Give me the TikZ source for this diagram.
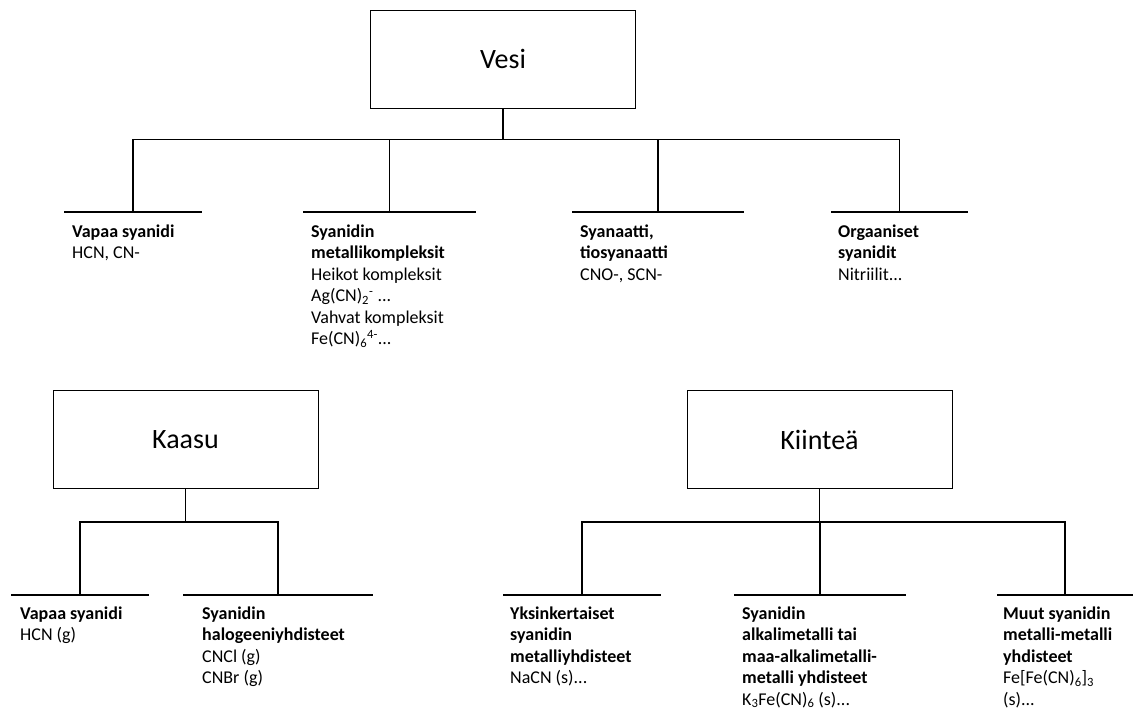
\documentclass[tikz,border=0pt]{standalone}
\usepackage{fontspec}
\setmainfont{Carlito}
\usepackage{tikz}

\tikzset{
  box/.style={draw, line width=1pt, minimum width=265pt, minimum height=98pt,
    inner sep=0pt, font=\fontsize{28}{34}\selectfont},
  txt/.style={anchor=north west, align=left, inner sep=0pt,
    font=\fontsize{18}{21.5}\selectfont},
  bar/.style={line width=1.6pt},
}

\begin{document}
\begin{tikzpicture}[%
      x=1pt, y=-1pt,
      ]
      \useasboundingbox (0,0) rectangle (1133,716);

      \node [box] (vesi) at (503,59) {Vesi};
      \node [box] (kaasu) at (185.5,439.5) {Kaasu};
      \node [box] (kiintea) at (819.5,439.5) {Kiinteä};

      % ylarivin haarat
      \coordinate (v1) at (133,212);
      \coordinate (v2) at (389.5,212);
      \coordinate (v3) at (658,212);
      \coordinate (v4) at (899.5,212);
      % alarivin haarat
      \coordinate (k1) at (80,595);
      \coordinate (k2) at (278,595);
      \coordinate (s1) at (582,595);
      \coordinate (s2) at (820,595);
      \coordinate (s3) at (1065,595);

      \draw [bar] (vesi.south) -- ++(0,31) coordinate (vjako);
      \draw [bar] (kaasu.south) -- ++(0,33) coordinate (kjako);
      \draw [bar] (kiintea.south) -- ++(0,33) coordinate (sjako);
      \foreach \c in {v1,v2,v3,v4} \draw [bar] (vjako) -| (\c);
      \foreach \c in {k1,k2} \draw [bar] (kjako) -| (\c);
      \foreach \c in {s1,s2,s3} \draw [bar] (sjako) -| (\c);

      \foreach \c/\w in {v1/69,v2/86.5,v3/86,v4/68.5,k1/69,k2/95,s1/79,s2/86,s3/68}
        \draw [bar] ([xshift=-\w pt]\c) -- ([xshift=\w pt]\c);

      \node [txt] (v1t) at (72,224.5) {\textbf{Vapaa syanidi}\\HCN, CN-};
      \node [txt] (v2t) at (311,224.5) {\textbf{Syanidin}\\\textbf{metallikompleksit}\\
        Heikot kompleksit\\Ag(CN)\textsubscript{2}\textsuperscript{-} ...\\
        Vahvat kompleksit\\Fe(CN)\textsubscript{6}\textsuperscript{4-}...};
      \node [txt] (v3t) at (580,224.5) {\textbf{Syanaatti,}\\\textbf{tiosyanaatti}\\CNO-, SCN-};
      \node [txt] (v4t) at (838,224.5) {\textbf{Orgaaniset}\\\textbf{syanidit}\\Nitriilit...};

      \node [txt] (k1t) at (20,606.5) {\textbf{Vapaa syanidi}\\HCN (g)};
      \node [txt] (k2t) at (202,606.5) {\textbf{Syanidin}\\\textbf{halogeeniyhdisteet}\\
        CNCl (g)\\CNBr (g)};
      \node [txt] (s1t) at (510,606.5) {\textbf{Yksinkertaiset}\\\textbf{syanidin}\\
        \textbf{metalliyhdisteet}\\NaCN (s)...};
      \node [txt] (s2t) at (742,606.5) {\textbf{Syanidin}\\\textbf{alkalimetalli tai}\\
        \textbf{maa-alkalimetalli-}\\\textbf{metalli yhdisteet}\\
        K\textsubscript{3}Fe(CN)\textsubscript{6} (s)...};
      \node [txt] (s3t) at (1003,606.5) {\textbf{Muut syanidin}\\\textbf{metalli-metalli}\\
        \textbf{yhdisteet}\\Fe[Fe(CN)\textsubscript{6}]\textsubscript{3}\\(s)...};
\end{tikzpicture}
\end{document}
